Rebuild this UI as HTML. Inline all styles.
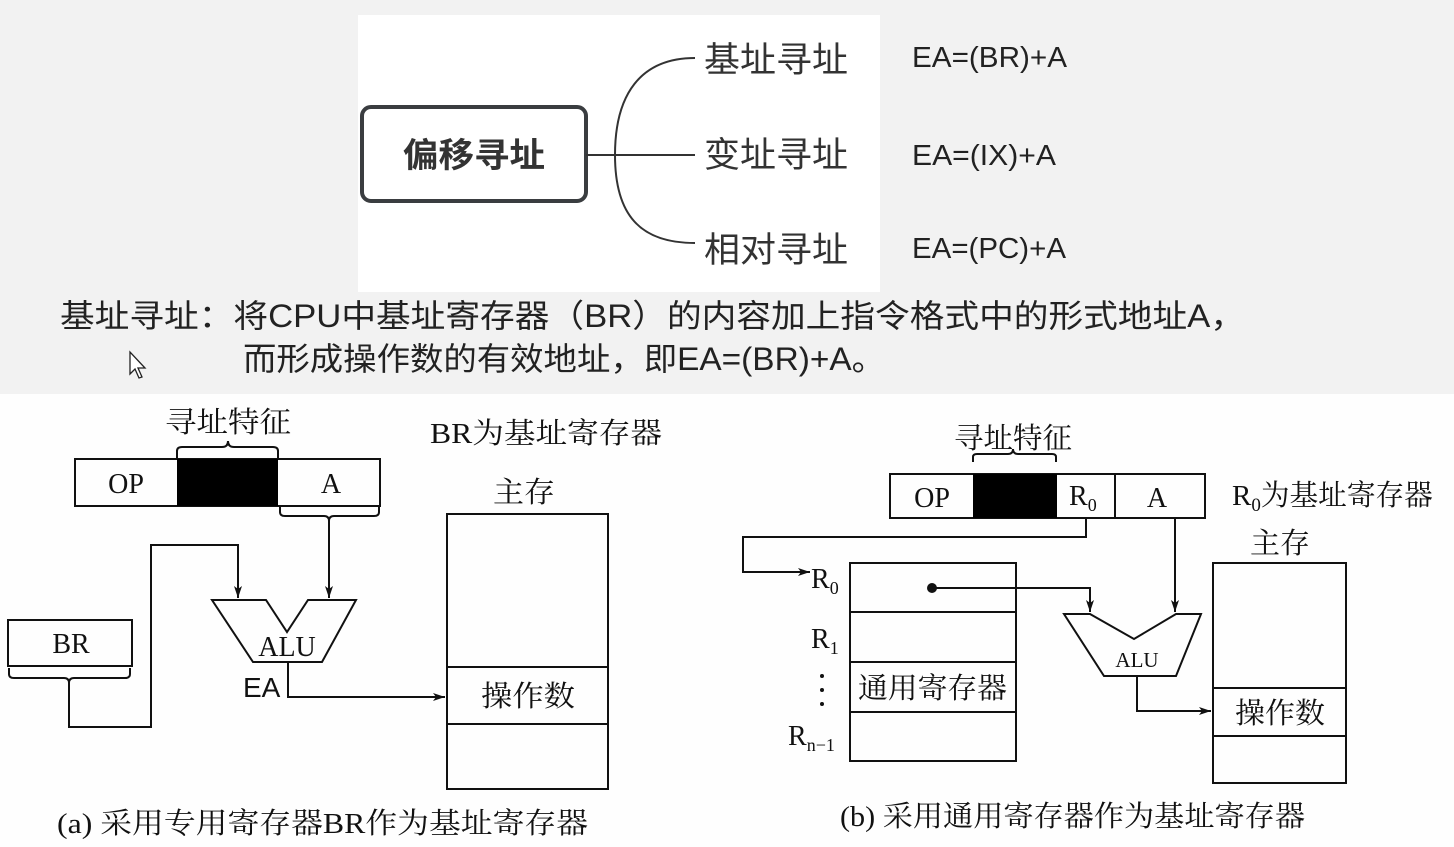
<!DOCTYPE html>
<html><head><meta charset="utf-8"><style>
html,body{margin:0;padding:0;background:#fff;}
svg{display:block;}
.cn{font-family:"Liberation Sans","Noto Sans CJK SC",sans-serif;}
.sr{font-family:"Liberation Serif","Noto Serif CJK SC",serif;}
</style></head><body>
<svg width="1454" height="847" viewBox="0 0 1454 847" xmlns="http://www.w3.org/2000/svg">
<defs>
<marker id="ar" viewBox="0 0 12 8" refX="12" refY="4" markerWidth="12" markerHeight="8" markerUnits="userSpaceOnUse" orient="auto"><path d="M0,0 L12,4 L0,8 L3,4 z" fill="#111"/></marker>
</defs>
<rect x="0" y="0" width="1454" height="394" fill="#f2f2f2"/>
<rect x="0" y="394" width="1454" height="453" fill="#fefefe"/>
<rect x="358" y="15" width="522" height="277" fill="#fff"/>
<!-- mind map -->
<rect x="362" y="107" width="224" height="94" rx="9" fill="#fff" stroke="#3a3d40" stroke-width="4"/>
<text x="474" y="167" text-anchor="middle" class="cn" font-size="34" font-weight="bold" fill="#333" textLength="142" lengthAdjust="spacingAndGlyphs">偏移寻址</text>
<g fill="none" stroke="#333" stroke-width="2">
<path d="M586,155 H695"/>
<path d="M615,155 C615,95 640,58 695,58"/>
<path d="M615,155 C615,215 640,243 695,243"/>
</g>
<g class="cn" font-size="35" fill="#333">
<text x="704" y="72" textLength="144" lengthAdjust="spacingAndGlyphs">基址寻址</text>
<text x="704" y="167" textLength="144" lengthAdjust="spacingAndGlyphs">变址寻址</text>
<text x="704" y="262" textLength="144" lengthAdjust="spacingAndGlyphs">相对寻址</text>
</g>
<g class="cn" font-size="29" fill="#222">
<text x="912" y="67" textLength="155" lengthAdjust="spacingAndGlyphs">EA=(BR)+A</text>
<text x="912" y="165" textLength="144" lengthAdjust="spacingAndGlyphs">EA=(IX)+A</text>
<text x="912" y="258" textLength="154" lengthAdjust="spacingAndGlyphs">EA=(PC)+A</text>
</g>
<g class="cn" font-size="32" fill="#222">
<text x="60" y="327" textLength="1185" lengthAdjust="spacingAndGlyphs">基址寻址：将CPU中基址寄存器（BR）的内容加上指令格式中的形式地址A，</text>
<text x="243" y="370" textLength="642" lengthAdjust="spacingAndGlyphs">而形成操作数的有效地址，即EA=(BR)+A。</text>
</g>
<path d="M130,352 L130,374 L135,369 L139,378 L142,377 L138,368 L145,368 Z" fill="#fff" stroke="#222" stroke-width="1.3"/>

<!-- diagram a -->
<g class="sr" fill="#111">
<text x="165" y="432" font-size="29" textLength="126" lengthAdjust="spacingAndGlyphs">寻址特征</text>
<text x="430" y="443" font-size="29" textLength="232" lengthAdjust="spacingAndGlyphs">BR为基址寄存器</text>
<text x="493" y="502" font-size="29" textLength="62" lengthAdjust="spacingAndGlyphs">主存</text>
<text x="126" y="493" text-anchor="middle" font-size="28">OP</text>
<text x="331" y="493" text-anchor="middle" font-size="28">A</text>
<text x="71" y="653" text-anchor="middle" font-size="28">BR</text>
<text x="287" y="656" text-anchor="middle" font-size="28">ALU</text>
<text x="481" y="706" font-size="29" textLength="94" lengthAdjust="spacingAndGlyphs">操作数</text>
<text x="57" y="833" font-size="29" textLength="531" lengthAdjust="spacingAndGlyphs">(a) 采用专用寄存器BR作为基址寄存器</text>
</g>
<text x="243" y="697" class="cn" font-size="28" fill="#111">EA</text>
<g fill="none" stroke="#111" stroke-width="2">
<path d="M177,458 V451 Q177,447 182,447 H222 Q228,447 228,441 Q228,447 234,447 H273 Q278,447 278,451 V458"/>
<rect x="75" y="459" width="305" height="47"/>
<path d="M280,506 V512 Q280,516 285,516 H324 Q329,516 329,521 Q329,516 334,516 H374 Q379,516 379,512 V506"/>
<path d="M329,521 V598" marker-end="url(#ar)"/>
<rect x="8" y="620" width="124" height="46"/>
<path d="M9,668 V674 Q9,678 14,678 H64 Q69,678 69,683 Q69,678 74,678 H125 Q130,678 130,674 V668"/>
<path d="M69,683 V727 H151 V545 H238 V598" marker-end="url(#ar)"/>
<path d="M212,600 H266 L287,632 L308,600 H356 L322,662 H253 Z"/>
<path d="M288,662 V697 H445" marker-end="url(#ar)"/>
<rect x="447" y="514" width="161" height="275"/>
<path d="M447,667 H608 M447,724 H608"/>
</g>
<rect x="177" y="459" width="101" height="47" fill="#000"/>

<!-- diagram b -->
<g class="sr" fill="#111">
<text x="954" y="448" font-size="29" textLength="118" lengthAdjust="spacingAndGlyphs">寻址特征</text>
<text x="1232" y="505" font-size="29">R<tspan font-size="19" dy="6">0</tspan><tspan dy="-6" textLength="172" lengthAdjust="spacingAndGlyphs">为基址寄存器</tspan></text>
<text x="1250" y="553" font-size="29" textLength="60" lengthAdjust="spacingAndGlyphs">主存</text>
<text x="932" y="507" text-anchor="middle" font-size="28">OP</text>
<text x="1069" y="505" font-size="28">R<tspan font-size="18" dy="6">0</tspan></text>
<text x="1157" y="507" text-anchor="middle" font-size="28">A</text>
<text x="811" y="588" font-size="28">R<tspan font-size="18" dy="6">0</tspan></text>
<text x="811" y="648" font-size="28">R<tspan font-size="18" dy="6">1</tspan></text>
<text x="788" y="745" font-size="28">R<tspan font-size="18" dy="6">n−1</tspan></text>
<text x="858" y="698" font-size="29" textLength="149" lengthAdjust="spacingAndGlyphs">通用寄存器</text>
<text x="1137" y="667" text-anchor="middle" font-size="21">ALU</text>
<text x="1235" y="723" font-size="29" textLength="90" lengthAdjust="spacingAndGlyphs">操作数</text>
<text x="840" y="826" font-size="29" textLength="465" lengthAdjust="spacingAndGlyphs">(b) 采用通用寄存器作为基址寄存器</text>
</g>
<g fill="#111"><circle cx="822" cy="676" r="2"/><circle cx="822" cy="690" r="2"/><circle cx="822" cy="704" r="2"/><circle cx="932" cy="588" r="5"/></g>
<g fill="none" stroke="#111" stroke-width="2">
<path d="M973,462 V457 Q973,454 977,454 H1008 Q1013,454 1013,449 Q1013,454 1018,454 H1052 Q1056,454 1056,457 V462"/>
<rect x="890" y="474" width="315" height="44"/>
<path d="M1115,474 V518"/>
<path d="M1086,518 V537 H743 V572 H810" marker-end="url(#ar)"/>
<rect x="850" y="563" width="166" height="198"/>
<path d="M850,612 H1016 M850,662 H1016 M850,712 H1016"/>
<path d="M932,588 H1090 V612" marker-end="url(#ar)"/>
<path d="M1175,518 V612" marker-end="url(#ar)"/>
<path d="M1064,614 H1090 L1134,639 L1176,614 H1201 L1176,676 H1104 Z"/>
<path d="M1137,676 V711 H1211" marker-end="url(#ar)"/>
<rect x="1213" y="563" width="133" height="220"/>
<path d="M1213,688 H1346 M1213,736 H1346"/>
</g>
<rect x="973" y="474" width="84" height="44" fill="#000"/>
</svg>
</body></html>
